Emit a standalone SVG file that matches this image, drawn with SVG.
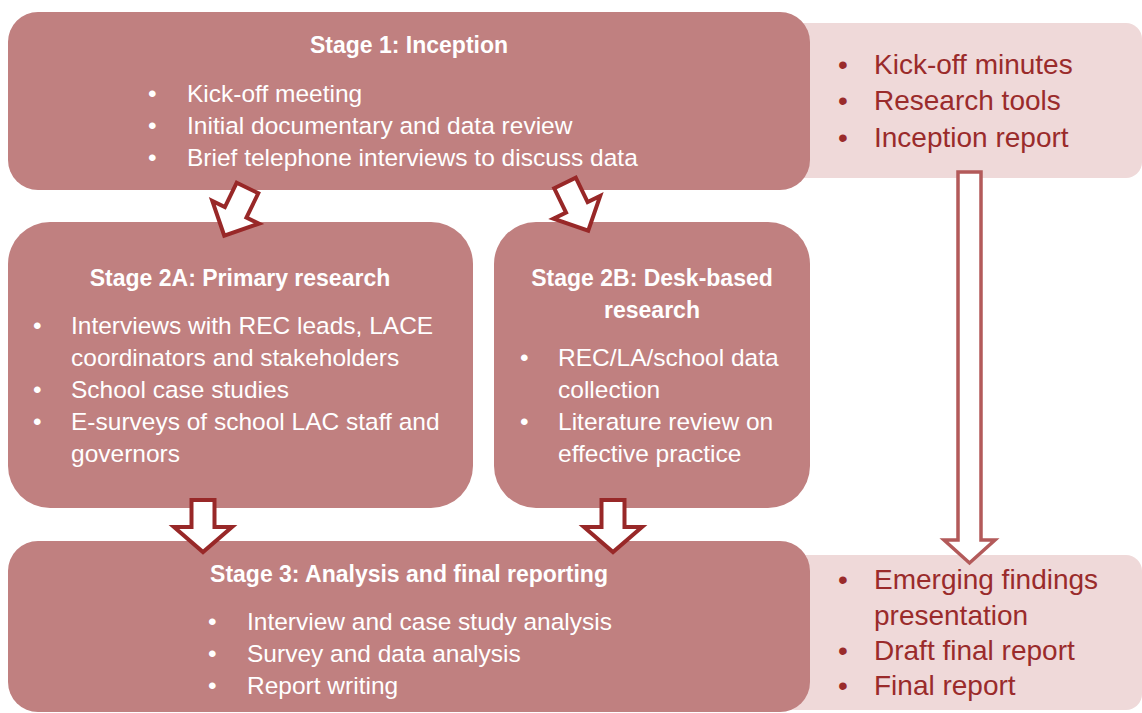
<svg xmlns="http://www.w3.org/2000/svg" width="1142" height="713" viewBox="0 0 1142 713">
<style>
.box{fill:#c08080}
.out{fill:#efd9d9}
.t{font-family:"Liberation Sans",Arial,sans-serif;font-size:24.5px;fill:#ffffff}
.h{font-family:"Liberation Sans",Arial,sans-serif;font-size:23px;font-weight:bold;fill:#ffffff;text-anchor:middle}
.o{font-family:"Liberation Sans",Arial,sans-serif;font-size:28px;fill:#9a2b2b}
.arr{fill:#ffffff;stroke:#982828;stroke-width:4;stroke-linejoin:miter}
.big{fill:#ffffff;stroke:#b35a5a;stroke-width:3.5}
</style>
<defs>
<path id="diag" d="M-12,0 H12 V27 H26 L0,53 L-26,27 H-12 Z"/>
<path id="down" d="M-11.5,0 H11.5 V27 H29 L0,52 L-29,27 H-11.5 Z"/>
</defs>
<g id="outputs1">
<rect class="out" x="780" y="23" width="362" height="155" rx="16"/>
<text class="o" x="838" y="74">•</text><text class="o" x="874" y="74">Kick-off minutes</text>
<text class="o" x="838" y="110">•</text><text class="o" x="874" y="110">Research tools</text>
<text class="o" x="838" y="147">•</text><text class="o" x="874" y="147">Inception report</text>
</g>
<g id="outputs2">
<rect class="out" x="780" y="555" width="362" height="155" rx="16"/>
<text class="o" x="838" y="589">•</text><text class="o" x="874" y="589">Emerging findings</text>
<text class="o" x="874" y="625">presentation</text>
<text class="o" x="838" y="660">•</text><text class="o" x="874" y="660">Draft final report</text>
<text class="o" x="838" y="695">•</text><text class="o" x="874" y="695">Final report</text>
</g>
<g id="stage1">
<rect class="box" x="8" y="12" width="802" height="178" rx="30"/>
<text class="h" x="409" y="53">Stage 1: Inception</text>
<text class="t" x="148" y="102">•</text><text class="t" x="187" y="102">Kick-off meeting</text>
<text class="t" x="148" y="134">•</text><text class="t" x="187" y="134">Initial documentary and data review</text>
<text class="t" x="148" y="166">•</text><text class="t" x="187" y="166">Brief telephone interviews to discuss data</text>
</g>
<g id="stage2a">
<rect class="box" x="8" y="222" width="465" height="286" rx="42"/>
<text class="h" x="240" y="286">Stage 2A: Primary research</text>
<text class="t" x="33" y="334">•</text><text class="t" x="71" y="334">Interviews with REC leads, LACE</text>
<text class="t" x="71" y="366">coordinators and stakeholders</text>
<text class="t" x="33" y="398">•</text><text class="t" x="71" y="398">School case studies</text>
<text class="t" x="33" y="430">•</text><text class="t" x="71" y="430">E-surveys of school LAC staff and</text>
<text class="t" x="71" y="462">governors</text>
</g>
<g id="stage2b">
<rect class="box" x="494" y="222" width="316" height="286" rx="42"/>
<text class="h" x="652" y="286">Stage 2B: Desk-based</text>
<text class="h" x="652" y="318">research</text>
<text class="t" x="520" y="366">•</text><text class="t" x="558" y="366">REC/LA/school data</text>
<text class="t" x="558" y="398">collection</text>
<text class="t" x="520" y="430">•</text><text class="t" x="558" y="430">Literature review on</text>
<text class="t" x="558" y="462">effective practice</text>
</g>
<g id="stage3">
<rect class="box" x="8" y="541" width="802" height="171" rx="30"/>
<text class="h" x="409" y="582">Stage 3: Analysis and final reporting</text>
<text class="t" x="208" y="630">•</text><text class="t" x="247" y="630">Interview and case study analysis</text>
<text class="t" x="208" y="662">•</text><text class="t" x="247" y="662">Survey and data analysis</text>
<text class="t" x="208" y="694">•</text><text class="t" x="247" y="694">Report writing</text>
</g>
<g id="connectors">
<use href="#diag" class="arr" transform="translate(247.5,188) rotate(26)"/>
<use href="#diag" class="arr" transform="translate(565,183) rotate(-26)"/>
<use href="#down" class="arr" transform="translate(203,500)"/>
<use href="#down" class="arr" transform="translate(613,500)"/>
<path class="big" d="M958,172 H981 V540 H995 L969.5,563 L944,540 H958 Z"/>
</g>
</svg>
